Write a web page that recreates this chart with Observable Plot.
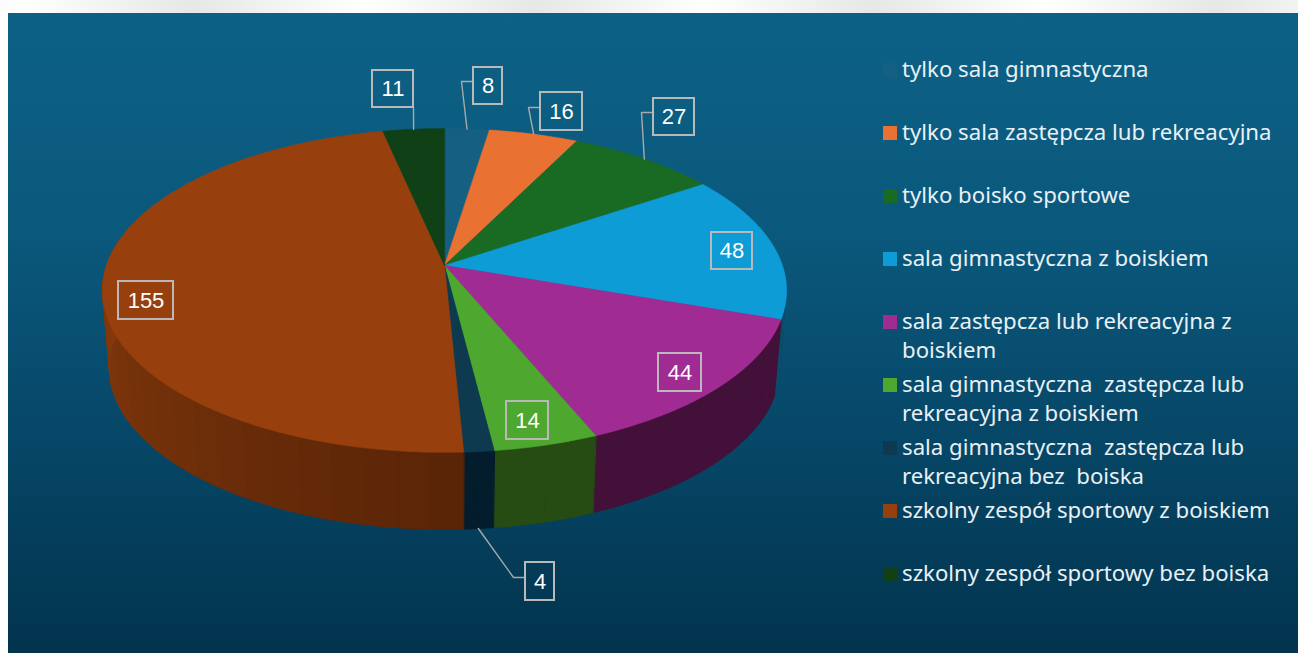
<!DOCTYPE html>
<html lang="pl">
<head>
<meta charset="utf-8">
<script src="https://cdn.jsdelivr.net/npm/d3@7"></script>
<script src="https://cdn.jsdelivr.net/npm/@observablehq/plot@0.6"></script>
<style>
html,body{margin:0;padding:0;background:#fff;overflow:hidden}
#page{position:relative;width:1298px;height:653px;
  background:repeating-linear-gradient(90deg,#fff 25px,#e7e7e7 195px,#fff 365px) top left/100% 13px no-repeat,#fff}
#panel{position:absolute;left:8px;top:13px;width:1290px;height:640px;
  background:linear-gradient(180deg,#0d6186 0%,#0a587c 35%,#07496a 62%,#02344e 100%)}
#chart{position:absolute;left:0;top:0}
#chart svg{background:transparent;white-space:pre}
</style>
</head>
<body>
<div id="page"><div id="panel"></div><div id="chart"></div></div>
<script>
const categories = [
  "tylko sala gimnastyczna",
  "tylko sala zastępcza lub rekreacyjna",
  "tylko boisko sportowe",
  "sala gimnastyczna z boiskiem",
  "sala zastępcza lub rekreacyjna z\nboiskiem",
  "sala gimnastyczna  zastępcza lub\nrekreacyjna z boiskiem",
  "sala gimnastyczna  zastępcza lub\nrekreacyjna bez  boiska",
  "szkolny zespół sportowy z boiskiem",
  "szkolny zespół sportowy bez boiska"
];
const values = [8, 16, 27, 48, 44, 14, 4, 155, 11];
const topColors = ["#156082", "#E97132", "#196B24", "#0D9CD6", "#A02B93", "#4EA72E", "#0D3A4E", "#983F0E", "#0F4016"];
const wallStart = ["#0a3a50", "#7d3a18", "#0d3a14", "#0b4c69", "#421038", "#264c13", "#031d2d", "#5a2507", "#0a2a0e"];
const wallEnd   = ["#0a3a50", "#7d3a18", "#0d3a14", "#0b4c69", "#421038", "#264c13", "#031d2d", "#85390c", "#0a2a0e"];

// Page layout of the value labels and legend
const boxLeft   = [473, 540, 653, 711, 658, 506, 525, 118, 372];
const boxRight  = [502, 582, 694, 752, 701, 548, 554, 173, 413];
const boxTop    = [67, 92, 98, 232, 353, 401, 562, 281, 70];
const boxBottom = [104, 130, 135, 269, 391, 439, 600, 319, 107];
const elbowX = [461, 528, 641, null, null, null, 513, null, 413];
const elbowY = [81, 107, 112, null, null, null, 577, null, 107];
const legendRowY = [70, 133, 196, 259, 322, 385, 448, 511, 574];

// Tilted-disc view
const cx = 444, cy = 265, rimX = 338, rimY = 158, tilt = 0.1543;
const wallDepth = 77, wallShrink = 0.98;
const total = d3.sum(values);
const angle = v => v / total * 2 * Math.PI;
function rim(t) {
  const w = 1 + tilt * Math.cos(t);
  return {x: cx + rimX * Math.sin(t) / w, y: cy - rimY * Math.cos(t) / w};
}
function base(t) {
  const p = rim(t);
  return {x: cx + wallShrink * (p.x - cx), y: p.y + wallDepth};
}
function arcAngles(a0, a1, stepDeg = 1) {
  const n = Math.max(2, Math.ceil((a1 - a0) / (stepDeg * Math.PI / 180)));
  return d3.range(n + 1).map(i => a0 + (a1 - a0) * i / n);
}

let acc = 0;
const slices = values.map((v, i) => {
  const a0 = angle(acc); acc += v; const a1 = angle(acc);
  return {i, v, a0, a1, mid: (a0 + a1) / 2};
});

const marks = [];
const closed = {x: "x", y: "y", curve: "linear-closed"};

// side wall, cut into shaded strips; only the near side of the disc shows
for (const s of slices) {
  const shade = d3.interpolateRgb(wallStart[s.i], wallEnd[s.i]);
  d3.pairs(arcAngles(s.a0, s.a1, 5)).forEach(([p, q]) => {
    if (Math.cos((p + q) / 2) > 0.2) return;
    const f = Math.min(1, Math.max(0, (p - s.a0) / (Math.min(s.a1, 4.7) - s.a0)));
    const c = shade(f);
    const strip = [...arcAngles(p, q, 1).map(rim), ...arcAngles(p, q, 1).reverse().map(base)];
    marks.push(Plot.line(strip, {...closed, fill: c, stroke: c, strokeWidth: 1}));
  });
}
// top faces
for (const s of slices) {
  const pts = [{x: cx, y: cy}, ...arcAngles(s.a0, s.a1).map(rim)];
  marks.push(Plot.line(pts, {...closed, fill: topColors[s.i], stroke: topColors[s.i], strokeWidth: 0.6}));
}
// leader lines
for (const s of slices) {
  if (elbowX[s.i] == null) continue;
  const start = s.i === 6 ? base(s.mid) : rim(s.mid);
  const isDirect = s.i === 8;
  const boxSide = boxRight[s.i] === elbowX[s.i] ? boxRight[s.i] : boxLeft[s.i];
  const pts = isDirect
    ? [start, {x: elbowX[s.i], y: elbowY[s.i]}]
    : [start, {x: elbowX[s.i], y: elbowY[s.i]}, {x: boxSide, y: elbowY[s.i]}];
  marks.push(Plot.line(pts, {x: "x", y: "y", stroke: "#a9a9a9", strokeWidth: 1.4}));
}
// value labels
marks.push(Plot.rect(slices, {
  x1: d => boxLeft[d.i], x2: d => boxRight[d.i],
  y1: d => boxTop[d.i], y2: d => boxBottom[d.i],
  fill: "none", stroke: "#b9b9b9", strokeWidth: 2
}));
marks.push(Plot.text(slices, {
  x: d => (boxLeft[d.i] + boxRight[d.i]) / 2,
  y: d => (boxTop[d.i] + boxBottom[d.i]) / 2,
  text: d => String(d.v),
  fill: "#ffffff", fontSize: 22, fontFamily: "'Liberation Sans', sans-serif", fontWeight: 400
}));
// legend
const swatch = 7;
marks.push(Plot.rect(slices, {
  x1: () => 883, x2: () => 897,
  y1: d => legendRowY[d.i] - swatch, y2: d => legendRowY[d.i] + swatch,
  fill: d => topColors[d.i]
}));
const legendLines = categories.flatMap((c, i) =>
  c.split("\n").map((t, j) => ({t, x: 901.5, y: legendRowY[i] - 1 + j * 29})));
marks.push(Plot.text(legendLines, {
  x: "x", y: "y", text: "t", textAnchor: "start",
  fill: "#e9f0f5", fontSize: 22.2, fontFamily: "'Noto Sans', sans-serif"
}));

const plot = Plot.plot({
  width: 1298, height: 653,
  margin: 0,
  x: {type: "linear", domain: [0, 1298], range: [0, 1298], axis: null},
  y: {type: "linear", domain: [0, 653], range: [0, 653], axis: null},
  color: {type: "identity"},
  style: {background: "transparent", overflow: "visible"},
  marks
});
document.getElementById("chart").appendChild(plot);
</script>
</body>
</html>
